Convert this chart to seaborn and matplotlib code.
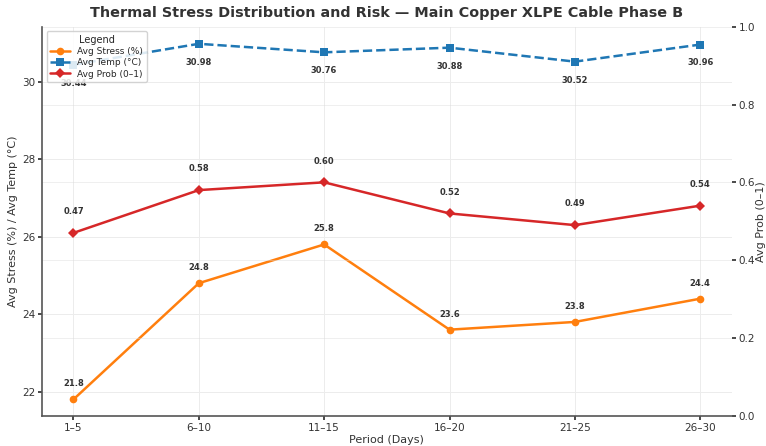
import matplotlib
matplotlib.use("Agg")
import matplotlib.pyplot as plt
import seaborn as sns
import pandas as pd

periods = ["1–5", "6–10", "11–15", "16–20", "21–25", "26–30"]
avg_stress = [21.8, 24.8, 25.8, 23.6, 23.8, 24.4]
avg_temp = [30.44, 30.98, 30.76, 30.88, 30.52, 30.96]
avg_prob = [0.47, 0.58, 0.60, 0.52, 0.49, 0.54]

sns.set_theme(style="whitegrid")
plt.rcParams["font.family"] = ["DejaVu Sans"]

df = pd.DataFrame({"period": periods, "stress": avg_stress,
                   "temp": avg_temp, "prob": avg_prob})

fig, ax = plt.subplots(figsize=(7.66, 4.46), dpi=100)
ax2 = ax.twinx()

c_stress, c_temp, c_prob = "#ff7f0e", "#1f77b4", "#d62728"

sns.lineplot(data=df, x="period", y="stress", ax=ax, color=c_stress,
             marker="o", markersize=5.5, linewidth=1.8, markeredgewidth=0,
             label="Avg Stress (%)", sort=False)
sns.lineplot(data=df, x="period", y="temp", ax=ax, color=c_temp,
             marker="s", markersize=5.5, linewidth=1.8, markeredgewidth=0,
             linestyle="--", label="Avg Temp (°C)", sort=False)
sns.lineplot(data=df, x="period", y="prob", ax=ax2, color=c_prob,
             marker="D", markersize=5, linewidth=1.8, markeredgewidth=0,
             label="Avg Prob (0–1)", sort=False)

lab_kw = dict(ha="center", fontsize=6, fontweight="bold", color="#333333")
for i, v in enumerate(avg_stress):
    ax.annotate(f"{v:.1f}", (i, v), xytext=(0, 8), textcoords="offset points",
                va="bottom", **lab_kw)
for i, v in enumerate(avg_temp):
    ax.annotate(f"{v:.2f}", (i, v), xytext=(0, -10), textcoords="offset points",
                va="top", **lab_kw)
for i, v in enumerate(avg_prob):
    ax2.annotate(f"{v:.2f}", (i, v), xytext=(0, 12), textcoords="offset points",
                 va="bottom", **lab_kw)

ax.set_ylim(21.38, 31.42)
ax2.set_ylim(0, 1.0)
ax.set_xlim(-0.25, 5.25)
ax.set_yticks([22, 24, 26, 28, 30])
ax2.set_yticks([0.0, 0.2, 0.4, 0.6, 0.8, 1.0])

ax.set_xlabel("Period (Days)", fontsize=8, color="#333333", labelpad=2)
ax.set_ylabel("Avg Stress (%) / Avg Temp (°C)", fontsize=8, color="#333333", labelpad=3)
ax2.set_ylabel("Avg Prob (0–1)", fontsize=8, color="#333333", labelpad=1)
ax.set_title("Thermal Stress Distribution and Risk — Main Copper XLPE Cable Phase B",
             fontsize=10.4, fontweight="bold", color="#333333", pad=7)

for a in (ax, ax2):
    a.tick_params(labelsize=7.5, colors="#333333", length=3, pad=2)
    for s in a.spines.values():
        s.set_visible(False)
ax.tick_params(axis="y", left=True, right=False)
ax.tick_params(axis="x", bottom=True)
ax2.tick_params(axis="y", right=True, left=False)
# the secondary axes sits on top, so its spines frame the plot
for side in ("left", "bottom"):
    ax2.spines[side].set_visible(True)
    ax2.spines[side].set_color("#555555")
    ax2.spines[side].set_linewidth(1.2)
ax.grid(True, color="#ececec", linewidth=0.7)
ax2.set_axisbelow(True)
ax2.grid(True, axis="y", color="#d8d8d8", alpha=0.4, linewidth=0.7)
ax2.grid(False, axis="x")

h1, l1 = ax.get_legend_handles_labels()
h2, l2 = ax2.get_legend_handles_labels()
ax2.get_legend().remove()
ax.get_legend().remove()
leg = ax2.legend(h1 + h2, l1 + l2, title="Legend", loc="upper left",
                 fontsize=6.5, title_fontsize=7, frameon=True,
                 borderpad=0.4, labelspacing=0.25, handlelength=2.2)
leg.get_frame().set_alpha(0.85)

fig.subplots_adjust(left=0.055, right=0.955, top=0.94, bottom=0.068)
fig.savefig("out.png", dpi=100)
